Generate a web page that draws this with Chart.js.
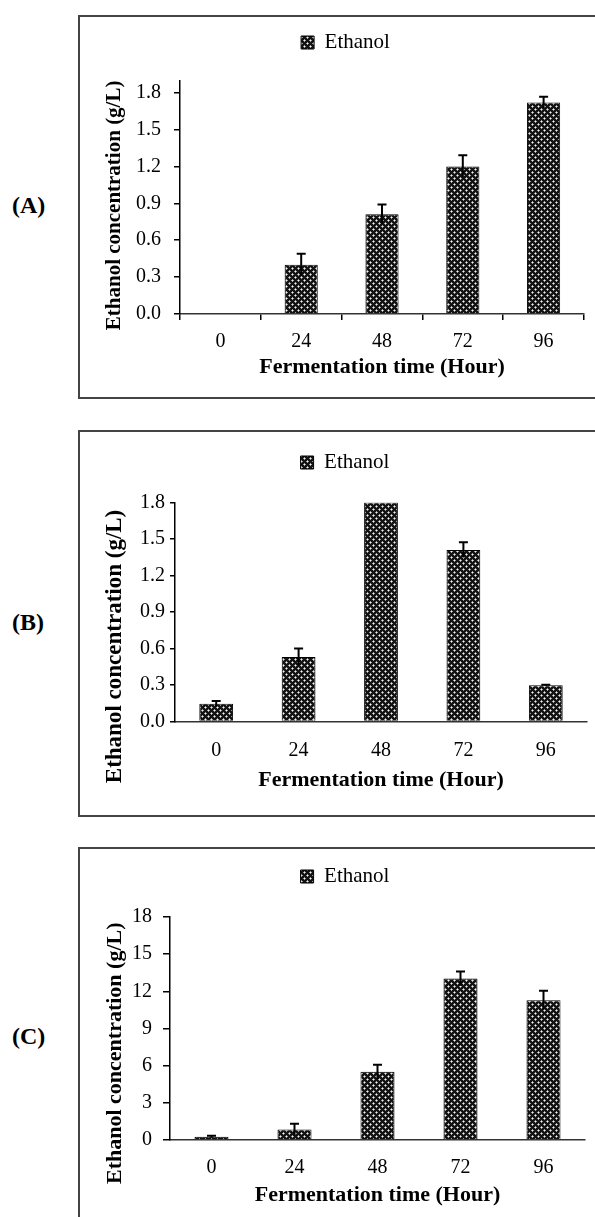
<!DOCTYPE html>
<html><head><meta charset="utf-8">
<script src="https://cdn.jsdelivr.net/npm/chart.js@4.4.1/dist/chart.umd.min.js"></script>
<style>
html,body{margin:0;padding:0;background:#fff;}
body{width:595px;height:1217px;overflow:hidden;position:relative;}
canvas{position:absolute;left:0;}
.panel{position:absolute;box-sizing:border-box;border:2px solid #444;left:78px;width:560px;}
.lab{position:absolute;left:12px;font:bold 24px 'Liberation Serif','Times New Roman',serif;line-height:24px;color:#000;}
</style></head><body>
<div class="panel" style="top:15px;height:384px"></div>
<div class="panel" style="top:430px;height:387px"></div>
<div class="panel" style="top:847px;height:500px"></div>
<div class="lab" style="top:193px">(A)</div>
<div class="lab" style="top:610px">(B)</div>
<div class="lab" style="top:1024px">(C)</div>
<canvas id="cA" width="595" height="400" style="top:0px"></canvas>
<canvas id="cB" width="595" height="420" style="top:400px"></canvas>
<canvas id="cC" width="595" height="397" style="top:820px"></canvas>
<script>
// ---- data ----
const categories = ['0', '24', '48', '72', '96'];
const seriesName = 'Ethanol';
const xTitle = 'Fermentation time (Hour)';
const yTitle = 'Ethanol concentration (g/L)';

const valuesA = [0, 0.40, 0.81, 1.20, 1.72];
const errorsA = [0, 0.09, 0.08, 0.09, 0.045];
const yTicksA = [0, 0.3, 0.6, 0.9, 1.2, 1.5, 1.8];

const valuesB = [0.145, 0.53, 1.80, 1.41, 0.297];
const errorsB = [0.022, 0.07, 0, 0.063, 0.005];
const yTicksB = [0, 0.3, 0.6, 0.9, 1.2, 1.5, 1.8];

const valuesC = [0.27, 0.85, 5.50, 13.03, 11.29];
const errorsC = [0.08, 0.47, 0.57, 0.57, 0.75];
const yTicksC = [0, 3, 6, 9, 12, 15, 18];

// ---- styling ----
const FAMILY = "'Liberation Serif', 'Times New Roman', serif";
Chart.defaults.font.family = FAMILY;
Chart.defaults.color = '#000';

function makePattern(ctx) {
  const t = document.createElement('canvas');
  t.width = 6; t.height = 6;
  const g = t.getContext('2d');
  g.fillStyle = '#131313'; g.fillRect(0, 0, 6, 6);
  [[1, 1], [4, 4]].forEach(([x, y]) => {
    g.fillStyle = '#9a9a9a';
    g.fillRect(x, y - 1, 1, 3);
    g.fillRect(x - 1, y, 3, 1);
    g.fillStyle = '#f2f2f2';
    g.fillRect(x, y, 1, 1);
  });
  return ctx.createPattern(t, 'repeat');
}

const errorBars = {
  id: 'errorBars',
  afterDatasetsDraw(chart, args, opts) {
    const meta = chart.getDatasetMeta(0);
    const ys = chart.scales.y;
    const vals = chart.data.datasets[0].data;
    const ctx = chart.ctx;
    ctx.save();
    ctx.strokeStyle = '#000';
    ctx.lineWidth = 2;
    meta.data.forEach((bar, i) => {
      const e = opts.errors[i];
      if (!e) return;
      const x = bar.x;
      const yt = ys.getPixelForValue(vals[i] + e);
      const yb = ys.getPixelForValue(vals[i] - e);
      ctx.beginPath();
      ctx.moveTo(x, yb); ctx.lineTo(x, yt);
      ctx.moveTo(x - 4.5, yt); ctx.lineTo(x + 4.5, yt);
      ctx.stroke();
    });
    ctx.restore();
  }
};

function build(id, values, errors, yTicks, L) {
  const canvas = document.getElementById(id);
  const ctx = canvas.getContext('2d');
  const pat = makePattern(ctx);
  return new Chart(ctx, {
    type: 'bar',
    data: {
      labels: categories,
      datasets: [{
        label: seriesName,
        data: values,
        backgroundColor: pat,
        borderColor: '#000',
        borderWidth: 1,
        barPercentage: 0.41,
        categoryPercentage: 1.0
      }]
    },
    plugins: [errorBars],
    options: {
      responsive: false,
      animation: false,
      events: [],
      layout: { padding: { left: L.padL, right: L.padR, top: L.padT, bottom: 0 } },
      plugins: {
        errorBars: { errors: errors },
        tooltip: { enabled: false },
        legend: {
          display: true,
          position: 'top',
          labels: {
            font: { size: 21, family: FAMILY },
            color: '#000',
            boxWidth: 13,
            boxHeight: 13,
            padding: 10
          }
        },
        subtitle: {
          display: true,
          text: '',
          weight: 500,
          padding: 0,
          font: { size: L.spacer, lineHeight: 1 }
        }
      },
      scales: {
        x: {
          grid: {
            display: true, drawOnChartArea: false, drawTicks: L.xTicks,
            tickLength: 6, color: '#000', lineWidth: 1.5, offset: true
          },
          border: { display: true, color: '#333', width: 1.5 },
          ticks: { font: { size: 20 }, color: '#000', padding: L.xTickPad, maxRotation: 0 },
          title: {
            display: true, text: xTitle, color: '#000',
            font: { size: L.xTitleSize, weight: 'bold' },
            padding: { top: 0, bottom: L.xTitlePadB }
          },
          afterFit(s) { s.height = L.xH; }
        },
        y: {
          min: 0,
          max: L.yMax,
          afterBuildTicks(s) { s.ticks = yTicks.map(v => ({ value: v })); },
          grid: {
            display: true, drawOnChartArea: false, drawTicks: true,
            tickLength: L.yTickLen, color: '#000', lineWidth: 1.5
          },
          border: { display: true, color: '#000', width: 1.5 },
          ticks: {
            font: { size: 20 }, color: '#000', padding: L.yTickPad,
            callback: (v) => L.dec ? Number(v).toFixed(1) : String(Math.round(v))
          },
          title: {
            display: true, text: yTitle + ' '.repeat(L.yShift), color: '#000',
            font: { size: L.yTitleSize, weight: 'bold' },
            padding: { top: L.yTitlePadT, bottom: 0 }
          },
          afterFit(s) { s.width = L.yW; }
        }
      }
    }
  });
}

build('cA', valuesA, errorsA, yTicksA, {
  padL: 107, padR: 11, padT: 22, spacer: 18,
  xTicks: true, xTickPad: 10, xTitleSize: 22, xTitlePadB: 19, xH: 86,
  yMax: 1.894, yTickLen: 6, yTickPad: 13, yTitleSize: 21, yTitlePadT: -5, yW: 73, dec: true, yShift: 3
});
build('cB', valuesB, errorsB, yTicksB, {
  padL: 103, padR: 8, padT: 42, spacer: 19.5,
  xTicks: false, xTickPad: 17, xTitleSize: 22, xTitlePadB: 26, xH: 98.6,
  yMax: 1.8, yTickLen: 5, yTickPad: 5, yTitleSize: 23, yTitlePadT: -2, yW: 72, dec: true, yShift: 12
});
build('cC', valuesC, errorsC, yTicksC, {
  padL: 105, padR: 10, padT: 36, spacer: 20,
  xTicks: false, xTickPad: 16, xTitleSize: 22, xTitlePadB: 8, xH: 77,
  yMax: 18, yTickLen: 7, yTickPad: 11, yTitleSize: 22, yTitlePadT: -3, yW: 65, dec: false, yShift: 9
});
</script>
</body></html>
